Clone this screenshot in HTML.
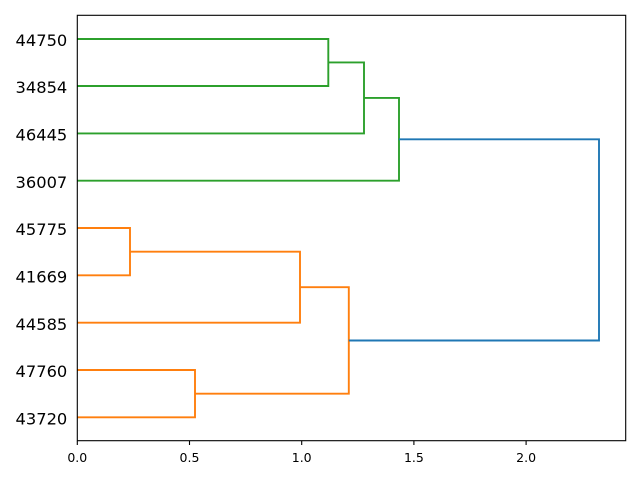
<!DOCTYPE html>
<html>
<head>
<meta charset="utf-8">
<style>
  html, body { margin: 0; padding: 0; background: #ffffff; }
  body { width: 640px; height: 480px; overflow: hidden; }
  svg { display: block; }
  text { font-family: "DejaVu Sans", "Liberation Sans", sans-serif; fill: #000; }
</style>
</head>
<body>
<svg width="640" height="480" viewBox="0 0 640 480" xmlns="http://www.w3.org/2000/svg">
  <rect x="0" y="0" width="640" height="480" fill="#ffffff"/>

  <!-- green cluster -->
  <g fill="none" stroke="#2ca02c" stroke-width="1.9">
    <path d="M77.3,39 H328.3 V86 H77.3"/>
    <path d="M328.3,62.4 H364 V133.4 H77.3"/>
    <path d="M364,97.9 H399 V180.7 H77.3"/>
  </g>

  <!-- orange cluster -->
  <g fill="none" stroke="#ff7f0e" stroke-width="1.9">
    <path d="M77.3,228 H130 V275.3 H77.3"/>
    <path d="M130,251.7 H300 V322.7 H77.3"/>
    <path d="M77.3,370 H195 V417.3 H77.3"/>
    <path d="M300,287.2 H348.8 V393.7 H195"/>
  </g>

  <!-- blue root link -->
  <path d="M399,139.3 H599 V340.5 H348.8" fill="none" stroke="#1f77b4" stroke-width="1.9"/>

  <!-- axes frame -->
  <rect x="77.3" y="15.3" width="548.4" height="425.4" fill="none" stroke="#000" stroke-width="1.1"/>

  <!-- x ticks -->
  <g stroke="#000" stroke-width="1.1">
    <line x1="77.3" y1="441" x2="77.3" y2="445"/>
    <line x1="189.5" y1="441" x2="189.5" y2="445"/>
    <line x1="301.7" y1="441" x2="301.7" y2="445"/>
    <line x1="413.9" y1="441" x2="413.9" y2="445"/>
    <line x1="526.1" y1="441" x2="526.1" y2="445"/>
  </g>
  <g font-size="12.5" text-anchor="middle">
    <text x="77.3" y="462">0.0</text>
    <text x="189.5" y="462">0.5</text>
    <text x="301.7" y="462">1.0</text>
    <text x="413.9" y="462">1.5</text>
    <text x="526.1" y="462">2.0</text>
  </g>

  <!-- y leaf labels -->
  <g font-size="16.3" text-anchor="end">
    <text x="67.3" y="45.8">44750</text>
    <text x="67.3" y="93.1">34854</text>
    <text x="67.3" y="140.5">46445</text>
    <text x="67.3" y="187.8">36007</text>
    <text x="67.3" y="235.1">45775</text>
    <text x="67.3" y="282.4">41669</text>
    <text x="67.3" y="329.8">44585</text>
    <text x="67.3" y="377.1">47760</text>
    <text x="67.3" y="424.4">43720</text>
  </g>
</svg>
</body>
</html>
